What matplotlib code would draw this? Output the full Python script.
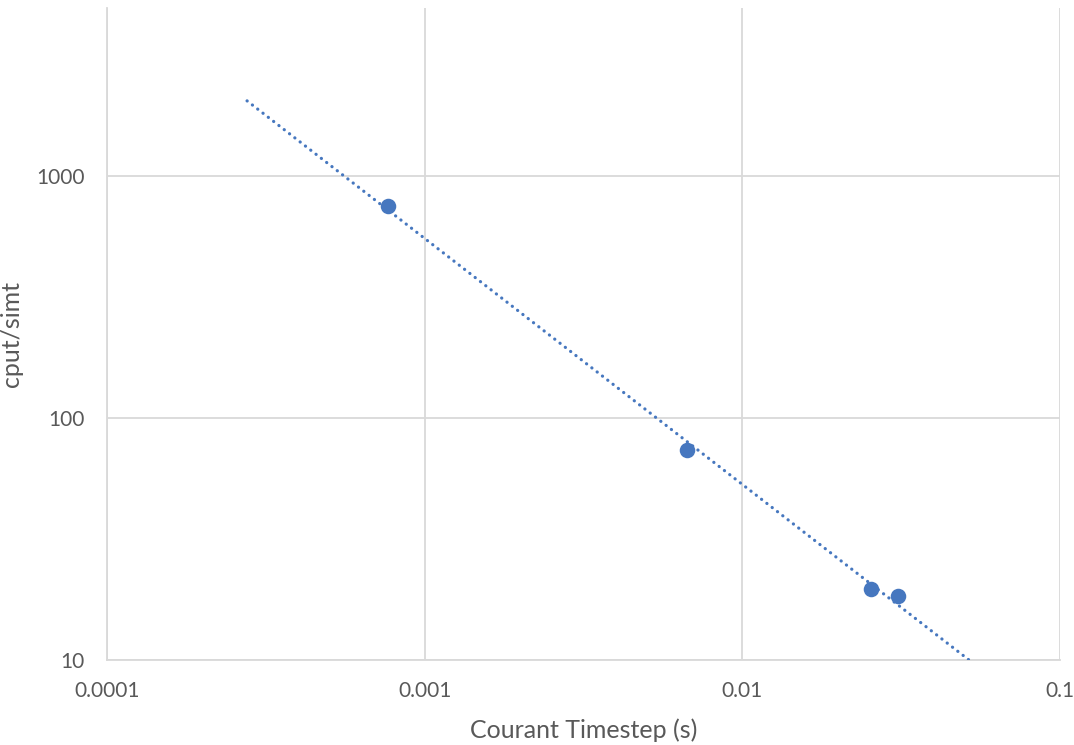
import numpy as np
import matplotlib
matplotlib.use("Agg")
import matplotlib.pyplot as plt

# Measured runs: Courant timestep vs. CPU time per simulated time
timestep = [0.000765, 0.00671, 0.0255, 0.0310]
cput_simt = [751, 73.8, 19.6, 18.4]

# Power-law trendline extent (backward / forward forecast)
trend_x_start = 0.000276
trend_x_end = 0.07

x_ticks = [0.0001, 0.001, 0.01, 0.1]
x_tick_labels = ["0.0001", "0.001", "0.01", "0.1"]
y_ticks = [10, 100, 1000]
y_tick_labels = ["10", "100", "1000"]

blue = "#4677BF"
grid_c = "#D9D9D9"
text_c = "#595959"
font = "Lato"

fig = plt.figure(figsize=(10.74, 7.45), dpi=100)
ax = fig.add_axes([107 / 1074, 85 / 745, (1060 - 107) / 1074, (737 - 85) / 745])

# power fit in log space
lx = np.log10(timestep)
ly = np.log10(cput_simt)
b, a = np.polyfit(lx, ly, 1)
tx = np.logspace(np.log10(trend_x_start), np.log10(trend_x_end), 200)
ty = 10 ** (a + b * np.log10(tx))
ax.plot(tx, ty, color=blue, lw=2.3, linestyle=(0, (0.05, 2.05)),
        dash_capstyle="round", zorder=3)

ax.scatter(timestep, cput_simt, s=125, color=blue, zorder=4, linewidths=0)

ax.set_xscale("log")
ax.set_yscale("log")
ax.set_xlim(0.0001, 0.1)
ax.set_ylim(10, 4950)

ax.set_xticks(x_ticks)
ax.set_xticklabels(x_tick_labels)
ax.set_yticks(y_ticks)
ax.set_yticklabels(y_tick_labels)
ax.minorticks_off()
ax.tick_params(axis="both", length=0, labelsize=15, labelcolor=text_c)
ax.tick_params(axis="x", pad=15)
ax.tick_params(axis="y", pad=16)
for lab in ax.get_xticklabels() + ax.get_yticklabels():
    lab.set_fontfamily(font)

ax.grid(True, color=grid_c, lw=1.3)
ax.set_axisbelow(True)
for side in ["top", "right"]:
    ax.spines[side].set_visible(False)
for side in ["left", "bottom"]:
    ax.spines[side].set_color(grid_c)
    ax.spines[side].set_linewidth(1.3)

ax.set_xlabel("Courant Timestep (s)", fontsize=18, color=text_c, family=font,
              va="center")
ax.set_ylabel("cput/simt", fontsize=18, color=text_c, family=font,
              va="center")
ax.xaxis.set_label_coords(0.5, (660 - 730) / 652)
ax.yaxis.set_label_coords((12 - 107) / 953, 0.5)

fig.savefig("out.png", dpi=100, facecolor="white")
